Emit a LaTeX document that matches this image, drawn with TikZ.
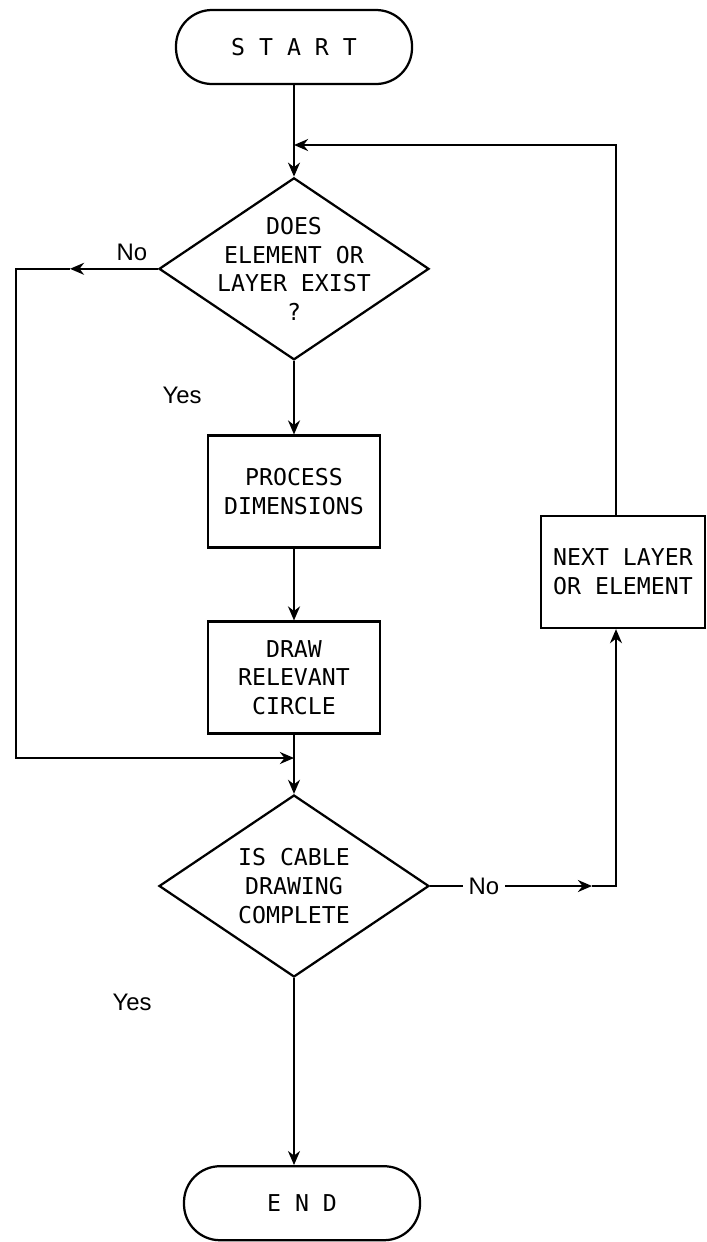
\documentclass[tikz,border=0pt]{standalone}
\usepackage{fontspec}
\setmainfont{Liberation Sans}
\setmonofont{DejaVu Sans Mono}
\usepackage{tikz}
\usetikzlibrary{arrows.meta,positioning,calc,shapes.geometric}

\newcommand{\plotfont}{\ttfamily\fontsize{16.5}{20.5}\selectfont}

\begin{document}
\begin{tikzpicture}[>={Stealth[length=10pt,width=8.5pt]},line width=1.6pt,
  term/.style={draw,rounded corners=9mm,minimum width=5.9cm,minimum height=1.85cm,font=\plotfont},
  proc/.style={draw,minimum width=4.3cm,minimum height=2.8cm,align=center,font=\plotfont},
  decide/.style={draw,diamond,aspect=1.5,inner sep=0pt,minimum width=6.75cm,minimum height=4.55cm,align=center,font=\plotfont},
  lab/.style={font=\fontsize{17}{20}\selectfont}]
\useasboundingbox (0,0) rectangle (17.675,-31.05);
% main column
\node[term] (start) at (7.35,-1.175) {S T A R T};
\node[decide,inner xsep=-0.25cm,inner ysep=-0.3cm] (exist) at (7.35,-6.72) {DOES\\ELEMENT OR\\LAYER EXIST\\?};
\node[proc] (dims) at (7.35,-12.29) {PROCESS\\DIMENSIONS};
\node[proc] (circ) at (7.35,-16.94) {DRAW\\RELEVANT\\CIRCLE};
\node[decide] (cmpl) at (7.35,-22.15) {IS CABLE\\DRAWING\\COMPLETE};
\node[term] (done) at (7.55,-30.08) {E N D};
\node[proc,minimum width=4.1cm] (next) at (15.575,-14.3) {NEXT LAYER\\OR ELEMENT};
% branch labels
\node[lab] (no1) at (3.3,-6.3) {No};
\node[lab] (yes1) at (4.55,-9.875) {Yes};
\node[lab] (no2) at (12.1,-22.15) {No};
\node[lab] (yes2) at (3.3,-25.05) {Yes};
% bends and joins
\coordinate (top) at (7.35,-3.625);
\coordinate (join) at (7.35,-18.95);
\coordinate (lft) at (0.4,-6.72);
\coordinate (mid1) at (1.75,-6.72);
\coordinate (loop) at (15.4,-22.15);
\coordinate (mid2) at (14.8,-22.15);
\draw (start) -- (top);
\draw[->] (top) -- (exist.north);
\draw[->] (exist) -- (dims);
\draw[->] (dims) -- (circ);
\draw[->] (circ) -- (cmpl);
\draw[->] (cmpl.south) -- (cmpl.south |- done.north);
% "no" from the first test skips the drawing
\draw[->] (exist.west) -- (mid1);
\draw[->] (mid1) -- (lft) -- (lft |- join) -- (join);
% loop back for the next layer
\draw (cmpl.east) -- (no2.west);
\draw[->] (no2.east) -- (mid2);
\draw[->] (mid2) -- (loop) -- (loop |- next.south);
\draw[->] (loop |- next.north) -- (loop |- top) -- (top);
\end{tikzpicture}
\end{document}
